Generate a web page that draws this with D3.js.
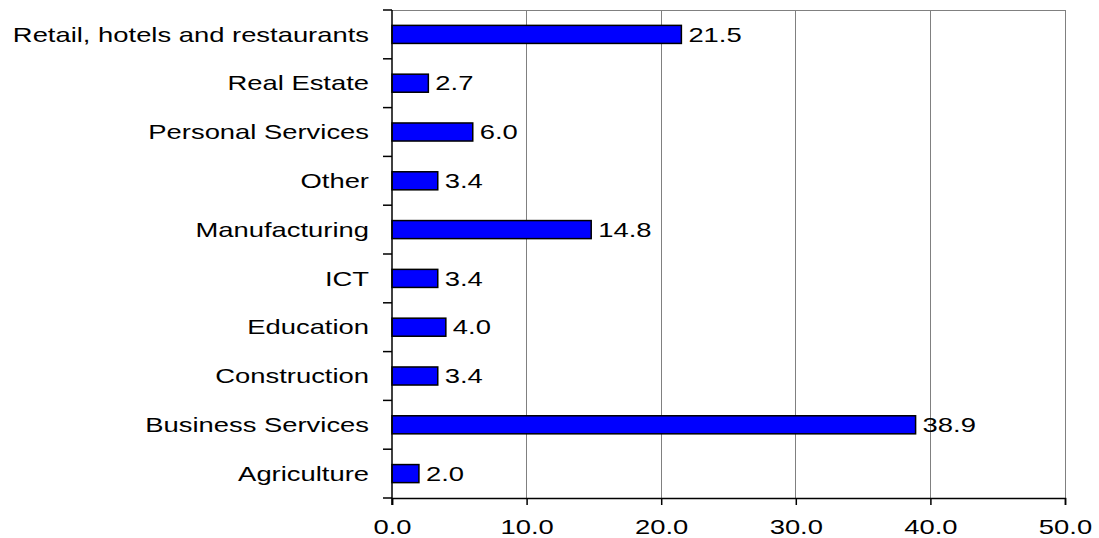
<!DOCTYPE html>
<html>
<head>
<meta charset="utf-8">
<script src="https://cdn.jsdelivr.net/npm/d3@7"></script>
<style>
  html, body { margin: 0; padding: 0; background: #fff; }
  svg { display: block; font-family: "Liberation Sans", Arial, sans-serif; }
</style>
</head>
<body>
<svg id="chart" width="1099" height="538"></svg>
<script>
// Sector shares (%), listed bottom to top
const categories = ["Agriculture", "Business Services", "Construction", "Education", "ICT",
  "Manufacturing", "Other", "Personal Services", "Real Estate", "Retail, hotels and restaurants"];
const values = [2.0, 38.9, 3.4, 4.0, 3.4, 14.8, 3.4, 6.0, 2.7, 21.5];
const xTicks = [0, 10, 20, 30, 40, 50];

const FONT = 20;
const STRETCH = 1.37; // wide lettering

const svg = d3.select("#chart");
const margin = { top: 10, right: 34, bottom: 40, left: 392 };
const width = 1099 - margin.left - margin.right;
const height = 538 - margin.top - margin.bottom;

const g = svg.append("g").attr("transform", `translate(${margin.left},${margin.top})`);

const x = d3.scaleLinear().domain([0, 50]).range([0, width]);
const y = d3.scaleBand().domain(categories.slice().reverse()).range([0, height]);

// places a horizontally stretched text label at (px, py)
function label(sel, px, py) {
  sel.attr("transform", (d, i) => `translate(${px(d, i)},${py(d, i)}) scale(${STRETCH},1)`)
    .attr("font-size", FONT).attr("fill", "#000");
}

// vertical gridlines and top frame
g.selectAll(".grid").data(xTicks.slice(1)).enter().append("line")
  .attr("x1", d => x(d)).attr("x2", d => x(d))
  .attr("y1", 0).attr("y2", height)
  .attr("stroke", "#808080").attr("stroke-width", 1).attr("shape-rendering", "crispEdges");
g.append("line").attr("x1", 0).attr("x2", width).attr("y1", 0).attr("y2", 0)
  .attr("stroke", "#808080").attr("shape-rendering", "crispEdges");

// bars
const barH = y.bandwidth() * 0.37;
g.selectAll(".bar").data(categories).enter().append("rect")
  .attr("x", 0)
  .attr("y", (d) => y(d) + (y.bandwidth() - barH) / 2)
  .attr("width", (d, i) => x(values[i]))
  .attr("height", barH)
  .attr("fill", "#0000ff")
  .attr("stroke", "#000").attr("stroke-width", 1.5);

// value labels
g.selectAll(".val").data(categories).enter().append("text")
  .attr("dy", "0.36em")
  .text((d, i) => values[i].toFixed(1))
  .call(label, (d, i) => x(values[i]) + 7, d => y(d) + y.bandwidth() / 2);

// y axis: ticks at category boundaries
g.append("line").attr("x1", 0).attr("x2", 0).attr("y1", 0).attr("y2", height + 7)
  .attr("stroke", "#000").attr("stroke-width", 1.5);
const bounds = d3.range(categories.length + 1).map(i => i * y.step());
g.selectAll(".ytick").data(bounds).enter().append("line")
  .attr("x1", -9).attr("x2", 0).attr("y1", d => d).attr("y2", d => d)
  .attr("stroke", "#000").attr("stroke-width", 1.5);
g.selectAll(".ylab").data(categories).enter().append("text")
  .attr("dy", "0.36em")
  .attr("text-anchor", "end")
  .text(d => d)
  .call(label, () => -23, d => y(d) + y.bandwidth() / 2);

// x axis
const xAxis = d3.axisBottom(x).tickValues(xTicks).tickFormat(d3.format(".1f")).tickSize(7);
const xg = g.append("g").attr("transform", `translate(0,${height})`).call(xAxis);
xg.select(".domain").attr("stroke", "#000").attr("stroke-width", 1.5);
xg.selectAll(".tick line").attr("stroke", "#000").attr("stroke-width", 1.5);
xg.selectAll(".tick text").remove();
xg.selectAll(".tick").append("text")
  .attr("text-anchor", "middle")
  .attr("font-family", "'Liberation Sans', Arial, sans-serif")
  .text(d => d3.format(".1f")(d))
  .call(label, () => 0, () => 36);
</script>
</body>
</html>
